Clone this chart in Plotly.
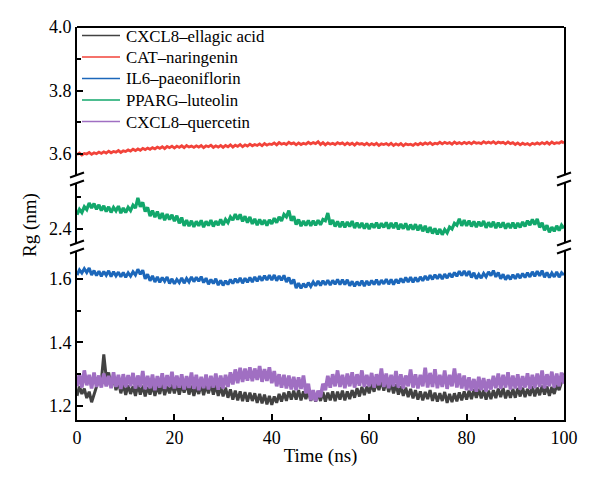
import plotly.graph_objects as go

# ---------------- data (Rg in nm, sampled every 0.5 ns from 0 to 100 ns) ----------------
time_ns = [i * 0.5 for i in range(201)]

cxcl8_ellagic = [
    1.232,1.262,1.238,1.255,1.225,1.245,1.212,1.236,1.255,1.285,
    1.280,1.362,1.290,1.305,1.262,1.290,1.250,1.278,1.240,1.268,
    1.235,1.265,1.238,1.262,1.232,1.268,1.236,1.264,1.230,1.260,
    1.236,1.266,1.232,1.262,1.238,1.270,1.234,1.263,1.240,1.268,
    1.240,1.270,1.236,1.266,1.242,1.272,1.236,1.264,1.232,1.262,
    1.238,1.268,1.234,1.265,1.240,1.270,1.236,1.266,1.232,1.260,
    1.230,1.258,1.226,1.252,1.220,1.248,1.218,1.246,1.215,1.244,
    1.214,1.242,1.216,1.240,1.210,1.238,1.208,1.236,1.205,1.232,
    1.204,1.230,1.210,1.238,1.214,1.242,1.216,1.246,1.220,1.248,
    1.220,1.250,1.218,1.246,1.222,1.248,1.216,1.242,1.214,1.240,
    1.216,1.244,1.214,1.242,1.218,1.246,1.215,1.245,1.220,1.248,
    1.218,1.246,1.222,1.250,1.226,1.256,1.230,1.260,1.234,1.262,
    1.240,1.270,1.245,1.275,1.250,1.282,1.248,1.280,1.244,1.272,
    1.240,1.268,1.236,1.262,1.232,1.258,1.228,1.254,1.224,1.250,
    1.220,1.246,1.218,1.244,1.222,1.250,1.216,1.242,1.214,1.240,
    1.216,1.244,1.210,1.238,1.212,1.240,1.215,1.243,1.218,1.246,
    1.220,1.248,1.222,1.252,1.226,1.254,1.224,1.250,1.220,1.248,
    1.222,1.250,1.225,1.255,1.228,1.256,1.224,1.250,1.226,1.254,
    1.226,1.256,1.230,1.258,1.228,1.254,1.232,1.262,1.230,1.258,
    1.234,1.264,1.236,1.262,1.232,1.260,1.238,1.266,1.250,1.280,
    1.302,
]

cat_naringenin = [
    3.598,3.603,3.597,3.602,3.600,3.605,3.599,3.604,3.601,3.606,
    3.602,3.607,3.603,3.609,3.604,3.608,3.606,3.611,3.605,3.610,
    3.608,3.613,3.609,3.615,3.611,3.616,3.612,3.618,3.614,3.619,
    3.615,3.620,3.616,3.622,3.618,3.623,3.617,3.624,3.620,3.625,
    3.619,3.625,3.621,3.626,3.620,3.627,3.622,3.625,3.621,3.626,
    3.622,3.627,3.620,3.626,3.623,3.628,3.621,3.626,3.622,3.627,
    3.621,3.627,3.623,3.629,3.622,3.628,3.624,3.630,3.623,3.629,
    3.625,3.631,3.626,3.630,3.627,3.632,3.626,3.633,3.628,3.632,
    3.630,3.635,3.629,3.636,3.631,3.634,3.630,3.637,3.632,3.635,
    3.629,3.635,3.630,3.634,3.631,3.637,3.632,3.636,3.633,3.639,
    3.630,3.636,3.629,3.635,3.631,3.634,3.630,3.636,3.632,3.635,
    3.629,3.635,3.630,3.634,3.628,3.635,3.631,3.633,3.629,3.634,
    3.628,3.633,3.629,3.634,3.627,3.632,3.630,3.633,3.628,3.634,
    3.627,3.632,3.628,3.633,3.626,3.632,3.629,3.631,3.627,3.633,
    3.629,3.634,3.630,3.635,3.631,3.636,3.630,3.634,3.632,3.637,
    3.632,3.637,3.633,3.636,3.631,3.638,3.633,3.636,3.632,3.637,
    3.633,3.637,3.632,3.638,3.634,3.636,3.633,3.639,3.634,3.638,
    3.634,3.639,3.633,3.638,3.635,3.637,3.632,3.638,3.633,3.636,
    3.630,3.635,3.629,3.634,3.630,3.633,3.628,3.634,3.631,3.635,
    3.631,3.636,3.632,3.637,3.631,3.638,3.633,3.636,3.634,3.639,
    3.635,
]

il6_paeoniflorin = [
    1.612,1.628,1.618,1.632,1.620,1.634,1.612,1.626,1.610,1.624,
    1.608,1.623,1.611,1.625,1.607,1.622,1.609,1.621,1.606,1.620,
    1.605,1.619,1.608,1.622,1.612,1.630,1.614,1.627,1.600,1.614,
    1.594,1.609,1.590,1.606,1.589,1.604,1.592,1.606,1.585,1.600,
    1.584,1.598,1.588,1.603,1.586,1.601,1.590,1.606,1.591,1.605,
    1.592,1.607,1.588,1.602,1.583,1.598,1.585,1.600,1.580,1.595,
    1.579,1.594,1.582,1.598,1.585,1.600,1.588,1.603,1.586,1.602,
    1.589,1.604,1.590,1.606,1.592,1.608,1.594,1.610,1.596,1.611,
    1.596,1.612,1.594,1.609,1.595,1.611,1.590,1.604,1.584,1.598,
    1.571,1.586,1.570,1.585,1.573,1.588,1.576,1.590,1.578,1.593,
    1.579,1.594,1.581,1.596,1.580,1.595,1.583,1.598,1.582,1.597,
    1.582,1.597,1.578,1.592,1.576,1.591,1.579,1.594,1.577,1.593,
    1.580,1.595,1.582,1.597,1.581,1.596,1.584,1.599,1.583,1.598,
    1.582,1.598,1.586,1.601,1.588,1.604,1.590,1.605,1.589,1.604,
    1.591,1.606,1.594,1.609,1.596,1.611,1.598,1.613,1.600,1.614,
    1.599,1.615,1.602,1.617,1.605,1.620,1.608,1.624,1.610,1.625,
    1.609,1.624,1.604,1.619,1.600,1.614,1.602,1.617,1.606,1.622,
    1.610,1.626,1.606,1.620,1.600,1.614,1.597,1.611,1.598,1.613,
    1.600,1.615,1.602,1.617,1.604,1.619,1.606,1.622,1.608,1.624,
    1.609,1.626,1.605,1.620,1.604,1.618,1.606,1.622,1.605,1.619,
    1.612,
]

pparg_luteolin = [
    2.445,2.462,2.452,2.470,2.461,2.482,2.466,2.480,2.462,2.476,
    2.458,2.473,2.455,2.470,2.452,2.468,2.457,2.472,2.450,2.466,
    2.452,2.468,2.458,2.475,2.466,2.498,2.470,2.484,2.455,2.468,
    2.441,2.458,2.437,2.455,2.432,2.450,2.428,2.447,2.430,2.445,
    2.425,2.442,2.418,2.436,2.410,2.428,2.409,2.426,2.407,2.424,
    2.410,2.427,2.406,2.424,2.411,2.428,2.408,2.425,2.412,2.430,
    2.412,2.430,2.420,2.438,2.428,2.447,2.430,2.446,2.424,2.440,
    2.420,2.438,2.416,2.432,2.412,2.430,2.414,2.428,2.411,2.429,
    2.416,2.434,2.420,2.438,2.425,2.446,2.438,2.458,2.426,2.440,
    2.414,2.430,2.409,2.425,2.411,2.427,2.410,2.426,2.412,2.428,
    2.413,2.430,2.426,2.450,2.414,2.428,2.408,2.424,2.406,2.423,
    2.405,2.422,2.408,2.425,2.403,2.420,2.404,2.419,2.401,2.418,
    2.400,2.417,2.404,2.420,2.402,2.418,2.405,2.421,2.401,2.419,
    2.403,2.420,2.399,2.416,2.401,2.418,2.397,2.414,2.398,2.415,
    2.396,2.413,2.393,2.410,2.389,2.406,2.386,2.402,2.383,2.400,
    2.382,2.398,2.388,2.406,2.400,2.418,2.412,2.432,2.410,2.428,
    2.410,2.426,2.408,2.424,2.406,2.423,2.409,2.425,2.404,2.421,
    2.406,2.423,2.403,2.420,2.405,2.421,2.401,2.418,2.403,2.420,
    2.402,2.419,2.405,2.422,2.408,2.426,2.412,2.430,2.414,2.432,
    2.405,2.420,2.396,2.412,2.390,2.406,2.393,2.410,2.395,2.412,
    2.402,
]

cxcl8_quercetin = [
    1.262,1.300,1.258,1.312,1.265,1.298,1.255,1.305,1.260,1.296,
    1.258,1.302,1.262,1.295,1.256,1.306,1.260,1.298,1.254,1.300,
    1.259,1.297,1.262,1.304,1.255,1.296,1.260,1.310,1.253,1.295,
    1.256,1.299,1.250,1.294,1.258,1.303,1.254,1.297,1.260,1.308,
    1.255,1.296,1.258,1.300,1.252,1.294,1.257,1.305,1.254,1.298,
    1.250,1.292,1.256,1.299,1.252,1.295,1.258,1.302,1.251,1.296,
    1.255,1.298,1.260,1.306,1.268,1.315,1.272,1.320,1.276,1.318,
    1.280,1.322,1.278,1.318,1.282,1.326,1.276,1.316,1.279,1.322,
    1.272,1.310,1.262,1.300,1.258,1.298,1.255,1.296,1.252,1.292,
    1.250,1.290,1.254,1.296,1.240,1.270,1.218,1.250,1.215,1.248,
    1.228,1.270,1.250,1.295,1.258,1.300,1.262,1.312,1.260,1.298,
    1.256,1.302,1.262,1.306,1.258,1.300,1.264,1.312,1.260,1.298,
    1.262,1.304,1.258,1.300,1.265,1.318,1.260,1.302,1.256,1.298,
    1.262,1.310,1.258,1.300,1.255,1.296,1.262,1.315,1.258,1.300,
    1.255,1.298,1.262,1.320,1.258,1.304,1.260,1.316,1.256,1.298,
    1.260,1.312,1.254,1.298,1.262,1.318,1.258,1.302,1.255,1.296,
    1.250,1.290,1.248,1.285,1.245,1.292,1.250,1.288,1.246,1.284,
    1.252,1.295,1.256,1.302,1.254,1.298,1.258,1.306,1.252,1.296,
    1.255,1.300,1.252,1.294,1.258,1.303,1.254,1.298,1.257,1.302,
    1.260,1.312,1.256,1.300,1.262,1.308,1.258,1.302,1.262,1.305,
    1.270,
]

series_names = ["CXCL8\u2013ellagic acid", "CAT\u2013naringenin", "IL6\u2013paeoniflorin",
                "PPARG\u2013luteolin", "CXCL8\u2013quercetin"]
series_values = [cxcl8_ellagic, cat_naringenin, il6_paeoniflorin, pparg_luteolin, cxcl8_quercetin]
series_colors = ["#424242", "#f2433a", "#1c67ba", "#12a76b", "#a06fc2"]
series_axis = ["y", "y3", "y", "y2", "y"]
series_width = [3.0, 2.8, 3.0, 3.2, 3.6]

x_ticks = [0, 20, 40, 60, 80, 100]
y_low_ticks = [1.2, 1.4, 1.6]
y_mid_ticks = [2.4]
y_top_ticks = [3.6, 3.8, 4.0]

# ---------------- figure ----------------
FONT = "Liberation Serif"
fig = go.Figure()

for name, vals, col, ax, w in zip(series_names, series_values, series_colors, series_axis, series_width):
    fig.add_trace(go.Scatter(x=time_ns, y=vals, mode="lines", name=name, xaxis="x", yaxis=ax,
                             line=dict(color=col, width=w), showlegend=False))

L, R, T, B = 77, 36, 27, 67
W, H = 600, 487
pw, ph = W - L - R, H - T - B

def py(p):  # pixel y -> paper
    return (H - B - p) / ph

def px(p):
    return (p - L) / pw

common_y = dict(showline=True, linecolor="black", linewidth=2, mirror=True, ticks="inside",
                ticklen=6, tickwidth=2, tickcolor="black", showgrid=False, zeroline=False,
                tickfont=dict(family=FONT, size=18, color="black"), anchor="x",
                tickformat=".1f")

fig.update_layout(
    width=W, height=H,
    margin=dict(l=L, r=R, t=T, b=B),
    paper_bgcolor="white", plot_bgcolor="white",
    showlegend=False,
    xaxis=dict(range=[0, 100], tickvals=x_ticks, showline=True, linecolor="black", linewidth=2,
               ticks="inside", ticklen=6, tickwidth=2, tickcolor="black", showgrid=False,
               zeroline=False, anchor="y",
               minor=dict(tickvals=[10, 30, 50, 70, 90], ticks="inside", ticklen=3.5,
                          tickwidth=2, tickcolor="black"),
               tickfont=dict(family=FONT, size=18, color="black"),
               title=dict(text="Time (ns)", font=dict(family=FONT, size=19, color="black"),
                          standoff=2)),
    yaxis=dict(domain=[0, py(251)], range=[1.156, 1.6874], tickvals=y_low_ticks,
               minor=dict(tickvals=[1.3, 1.5], ticks="inside", ticklen=3.5, tickwidth=2,
                          tickcolor="black"), **common_y),
    yaxis2=dict(domain=[py(243), py(183)], range=[2.356, 2.5447], tickvals=y_mid_ticks,
                minor=dict(tickvals=[2.5], ticks="inside", ticklen=3.5, tickwidth=2,
                           tickcolor="black"), **common_y),
    yaxis3=dict(domain=[py(175), 1], range=[3.534, 4.0], tickvals=y_top_ticks,
                minor=dict(tickvals=[3.7, 3.9], ticks="inside", ticklen=3.5, tickwidth=2,
                           tickcolor="black"), **common_y),
)

# top border of the frame
fig.add_shape(type="line", xref="paper", yref="paper", x0=0, x1=1, y0=1, y1=1,
              line=dict(color="black", width=2))

# axis-break marks (double slashes) on both spines
for gap_top, gap_bot in [(175, 183), (243, 251)]:
    for sx in (L, W - R):
        for yy in (gap_top, gap_bot):
            fig.add_shape(type="line", xref="paper", yref="paper",
                          x0=px(sx - 7), y0=py(yy + 2.5), x1=px(sx + 7), y1=py(yy - 2.5),
                          line=dict(color="black", width=2))

# legend (drawn as line samples + text, inside top-left)
legend_rows = [35.5, 57, 78.5, 100, 121.5]
for name, col, ry in zip(series_names, series_colors, legend_rows):
    fig.add_shape(type="line", xref="paper", yref="paper", x0=px(82), x1=px(120),
                  y0=py(ry), y1=py(ry), line=dict(color=col, width=1.6))
    fig.add_annotation(text=name, xref="paper", yref="paper", x=px(124), y=py(ry + 0.5),
                       xanchor="left", yanchor="middle", showarrow=False,
                       font=dict(family=FONT, size=16.8, color="black"))

# y-axis title
fig.add_annotation(text="Rg (nm)", xref="paper", yref="paper", x=px(30), y=py(225),
                   textangle=-90, showarrow=False, xanchor="center", yanchor="middle",
                   font=dict(family=FONT, size=19, color="black"))

fig.write_html("out.html")
